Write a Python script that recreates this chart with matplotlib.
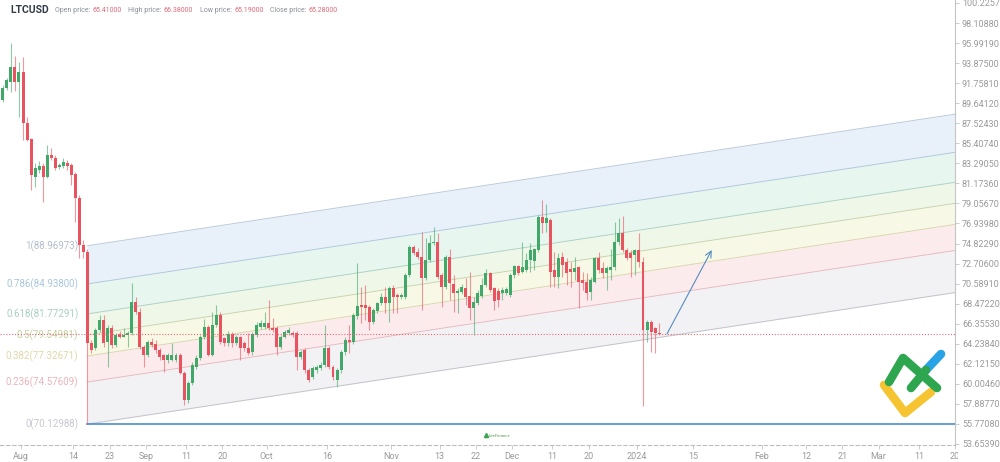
import matplotlib
matplotlib.use('Agg')
import matplotlib.pyplot as plt
import matplotlib.dates as mdates
from matplotlib.transforms import Bbox
import numpy as np
import pandas as pd

plt.rcParams['font.family'] = ['Roboto', 'DejaVu Sans']

# ---------------- data ----------------
symbol = 'LTCUSD'
info_labels = ['Open price:', 'High price:', 'Low price:', 'Close price:']
info_values = ['65.41000', '66.38000', '65.19000', '65.28000']

first_date = '2023-07-27'
opens = [90.0, 91.3, 91.9, 93.5, 91.9, 92.9, 87.6, 85.9, 81.9, 82.6,
         83.0, 81.9, 84.2, 83.9, 82.9, 83.0, 83.3, 83.1, 82.2, 79.6,
         74.7, 73.9, 64.3, 63.8, 65.7, 66.75, 64.4, 65.9, 64.1, 65.3,
         65.0, 65.2, 65.4, 68.65, 67.6, 63.9, 63.05, 64.4, 64.2, 63.6,
         63.0, 62.5, 62.55, 62.5, 63.0, 61.15, 58.3, 60.1, 61.8, 62.7,
         64.95, 66.0, 63.1, 66.2, 67.3, 64.8, 64.3, 65.3, 64.3, 64.95,
         64.3, 63.8, 63.35, 65.2, 66.0, 66.0, 66.4, 65.9, 65.9, 63.9,
         64.95, 65.4, 65.4, 65.4, 62.85, 63.6, 61.45, 60.7, 61.45, 61.7,
         62.0, 63.8, 61.8, 60.4, 61.45, 63.35, 64.6, 64.4, 67.15, 68.3,
         68.3, 68.1, 66.5, 67.7, 68.5, 69.2, 68.5, 70.1, 69.4, 69.2,
         69.2, 71.5, 74.45, 73.9, 73.4, 71.2, 73.1, 74.9, 75.0, 71.5,
         70.2, 73.4, 70.55, 69.6, 69.7, 70.1, 69.3, 68.0, 68.55, 69.3,
         70.45, 71.7, 70.1, 69.8, 69.6, 69.6, 69.4, 71.5, 72.45, 71.8,
         72.0, 73.1, 73.0, 74.15, 77.6, 77.0, 77.3, 72.0, 71.3, 73.4,
         72.9, 72.1, 71.8, 72.35, 70.97, 70.75, 69.7, 70.75, 73.3, 72.2,
         71.7, 72.0, 72.35, 74.98, 75.9, 74.15, 73.8, 73.6, 74.15, 72.9,
         65.7, 66.5, 65.9, 65.41]
highs = [91.6, 92.3, 96.0, 94.6, 94.0, 94.5, 88.2, 86.0, 83.3, 83.5,
         83.3, 85.2, 84.9, 84.2, 83.3, 83.9, 83.6, 83.3, 82.4, 79.9,
         75.2, 74.2, 64.6, 65.9, 67.3, 67.3, 66.2, 66.2, 65.4, 65.6,
         65.9, 65.6, 70.65, 69.2, 68.0, 64.1, 64.6, 64.8, 64.6, 63.8,
         63.2, 63.3, 64.3, 63.3, 63.3, 61.4, 60.3, 62.3, 63.0, 65.2,
         66.9, 66.2, 67.6, 68.3, 67.6, 65.0, 65.6, 65.5, 65.2, 65.1,
         64.5, 65.4, 65.5, 66.5, 66.75, 67.6, 68.85, 66.95, 66.1, 65.2,
         65.7, 66.0, 65.6, 65.6, 63.6, 63.8, 61.7, 61.9, 62.0, 62.3,
         66.2, 64.0, 62.0, 61.7, 63.6, 64.9, 66.2, 67.5, 72.8, 70.2,
         70.4, 68.3, 68.0, 68.7, 69.6, 70.2, 70.3, 70.45, 69.6, 69.6,
         71.7, 74.7, 74.65, 74.35, 76.0, 75.4, 75.7, 76.6, 75.9, 71.7,
         73.6, 74.25, 71.5, 70.1, 70.5, 71.2, 71.8, 69.2, 69.9, 71.2,
         72.1, 71.8, 70.2, 70.1, 70.2, 70.2, 71.7, 72.55, 72.6, 75.0,
         73.8, 74.9, 74.35, 77.8, 79.4, 79.0, 77.5, 73.9, 73.8, 73.9,
         73.3, 72.85, 73.4, 72.45, 71.8, 71.7, 71.3, 73.4, 73.9, 72.85,
         72.45, 74.25, 77.1, 77.5, 77.7, 74.35, 74.15, 74.25, 75.9, 73.4,
         66.75, 66.75, 66.0, 66.38]
lows = [89.8, 91.0, 90.8, 90.9, 88.2, 85.8, 85.6, 80.5, 80.8, 82.3,
        79.2, 81.7, 83.6, 82.6, 82.7, 82.8, 82.6, 81.0, 77.1, 73.3,
        73.3, 55.8, 63.3, 63.6, 65.5, 63.9, 61.8, 63.8, 63.9, 64.8,
        64.9, 63.9, 65.2, 67.4, 63.7, 61.8, 62.8, 63.9, 63.3, 62.5,
        61.25, 62.2, 62.4, 62.3, 61.0, 57.8, 58.0, 59.9, 61.6, 62.5,
        64.7, 62.9, 62.9, 66.0, 64.2, 64.0, 64.0, 63.9, 64.1, 62.5,
        63.5, 63.0, 63.1, 65.0, 65.8, 65.8, 65.7, 65.5, 63.05, 63.7,
        64.8, 65.2, 65.0, 61.45, 62.6, 61.2, 60.2, 60.5, 61.2, 61.5,
        61.8, 61.6, 60.4, 59.7, 61.2, 63.1, 63.25, 64.2, 66.9, 66.4,
        66.75, 65.7, 66.3, 67.5, 68.3, 67.5, 66.5, 67.5, 67.5, 69.0,
        69.0, 71.3, 73.6, 73.2, 67.8, 71.0, 72.9, 74.7, 71.1, 68.1,
        70.0, 68.85, 67.6, 67.5, 69.5, 68.3, 66.75, 65.15, 68.3, 69.1,
        70.2, 69.7, 67.8, 68.1, 68.85, 69.4, 69.2, 71.2, 71.5, 71.7,
        71.8, 71.8, 72.0, 73.9, 75.9, 76.0, 70.25, 70.25, 70.1, 71.3,
        70.45, 70.25, 70.97, 68.0, 69.9, 68.85, 68.85, 70.65, 71.7, 71.2,
        69.9, 70.97, 72.0, 74.7, 73.9, 73.1, 71.3, 71.5, 72.35, 57.65,
        64.4, 63.35, 63.25, 65.19]
closes = [91.3, 92.1, 93.5, 91.9, 92.9, 87.6, 85.8, 82.1, 82.8, 83.0,
          81.85, 84.2, 83.9, 82.8, 83.1, 83.4, 83.0, 82.1, 79.6, 74.7,
          73.9, 64.3, 63.6, 65.7, 66.75, 64.3, 65.9, 64.1, 65.15, 64.95,
          65.2, 65.4, 68.65, 67.6, 63.9, 63.05, 64.4, 64.1, 63.6, 62.85,
          62.5, 63.05, 63.0, 63.0, 61.15, 58.3, 60.1, 62.0, 62.7, 64.95,
          66.0, 63.1, 66.2, 67.3, 64.4, 64.3, 65.3, 64.3, 64.95, 63.8,
          63.8, 63.25, 65.3, 66.2, 66.4, 66.4, 65.9, 65.7, 63.9, 64.95,
          65.5, 65.7, 65.15, 62.85, 63.35, 61.45, 60.4, 61.7, 61.8, 62.0,
          63.8, 61.8, 60.7, 61.45, 63.35, 64.6, 64.4, 67.25, 68.2, 68.1,
          68.0, 66.5, 67.8, 68.5, 69.2, 68.5, 70.1, 69.2, 69.2, 69.4,
          71.5, 74.45, 73.8, 73.4, 71.2, 73.1, 74.9, 75.0, 71.3, 70.2,
          73.4, 70.65, 69.6, 69.8, 70.2, 69.2, 68.0, 68.65, 69.6, 70.45,
          71.7, 69.9, 68.75, 68.85, 69.9, 70.0, 71.5, 72.45, 71.7, 72.3,
          73.1, 74.15, 74.25, 77.6, 77.0, 77.5, 71.8, 71.3, 73.3, 72.55,
          71.7, 71.8, 72.25, 70.75, 70.65, 69.6, 70.97, 73.3, 72.0, 71.7,
          72.2, 72.35, 74.98, 75.9, 74.15, 73.3, 73.3, 74.15, 72.9, 65.7,
          66.5, 65.5, 65.4, 65.28]

# Fibonacci channel
fib_levels = [1.0, 0.786, 0.618, 0.5, 0.382, 0.236, 0.0]
fib_labels = ['1(88.96973)', '0.786(84.93800)', '0.618(81.77291)', '0.5(79.54981)',
              '0.382(77.32671)', '0.236(74.57609)', '0(70.12988)']
chan_start = '2023-08-17 12:00'
chan_end = '2024-03-27 12:00'
chan_start_low = 55.75
chan_end_low = 70.12988
chan_range = 18.83985

support_level = 55.7708
close_level = 65.28
arrow_from = ('2024-01-08 11:00', 65.28)
arrow_to = ('2024-01-19 14:00', 74.14)

ytick_labels = ['53.65390', '55.77080', '57.88770', '60.00460', '62.12150', '64.23840',
                '66.35530', '68.47220', '70.58910', '72.70600', '74.82290', '76.93980',
                '79.05670', '81.17360', '83.29050', '85.40740', '87.52430', '89.64120',
                '91.75810', '93.87500', '95.99190', '98.10880', '100.22570']
xtick_dates = ['2023-08-01', '2023-08-14', '2023-08-23', '2023-09-01', '2023-09-11',
               '2023-09-20', '2023-10-01', '2023-10-16', '2023-11-01', '2023-11-13',
               '2023-11-22', '2023-12-01', '2023-12-11', '2023-12-20', '2024-01-01',
               '2024-01-15', '2024-02-01', '2024-02-12', '2024-02-21', '2024-03-01',
               '2024-03-11', '2024-03-20']
xtick_labels = ['Aug', '14', '23', 'Sep', '11', '20', 'Oct', '16', 'Nov', '13', '22',
                'Dec', '11', '20', '2024', '15', 'Feb', '12', '21', 'Mar', '11', '20']

# ---------------- styling ----------------
GREEN = '#41a86a'
RED = '#e9525f'
band_colors = ['#e8f1fa', '#e8f6f0', '#eff8e8', '#f7f9e6', '#fcebed', '#f2f2f4']
line_colors = ['#bccadb', '#b0c9dc', '#b0d2c5', '#c9d5b0', '#ddd5b2', '#e5bcc3', '#c3c3cc']
label_colors = ['#b4bccc', '#a9c6dc', '#a8d0c2', '#c8cf9f', '#e0d7a8', '#ebb3bb', '#c6c7d1']

W, H = 1000, 462
fig = plt.figure(figsize=(W / 100, H / 100), dpi=100)
ax = fig.add_axes([0, 17 / H, 955 / W, 445 / H])
ax.set_facecolor('white')

d2n = lambda s: mdates.date2num(pd.Timestamp(s))
x_aug1 = d2n('2023-08-01')
ax.set_xlim(x_aug1 - 5.216, d2n('2024-03-20'))
ax.set_ylim(53.547, 100.5425)

# channel bands and lines
cx = np.array([d2n(chan_start), d2n(chan_end)])
low_line = np.array([chan_start_low, chan_end_low])
lvl_lines = [low_line + f * chan_range for f in fib_levels]
for i in range(len(fib_levels) - 1):
    ax.fill_between(cx, lvl_lines[i + 1], lvl_lines[i], color=band_colors[i], lw=0, zorder=1)
for i, f in enumerate(fib_levels):
    ax.plot(cx, lvl_lines[i], color=line_colors[i], lw=0.7, zorder=2)
    ax.annotate(fib_labels[i], xy=(cx[0], lvl_lines[i][0]), xytext=(-6.5, 0),
                textcoords='offset points', ha='right', va='center',
                fontsize=7, color=label_colors[i], zorder=5)

# support & close lines
ax.plot([cx[0], ax.get_xlim()[1]], [support_level, support_level], color='#4a8fcb', lw=1.2, zorder=3)
ax.axhline(close_level, color='#e36b76', lw=0.8, ls=(0, (1, 1.6)), zorder=6)

# candles
dates = pd.date_range(first_date, periods=len(opens), freq='D')
xc = mdates.date2num(dates) + 0.5
o, h, l, c = (np.array(v, dtype=float) for v in (opens, highs, lows, closes))
cols = np.where(c >= o, GREEN, RED)
ax.vlines(xc, l, h, colors=cols, linewidth=0.8, alpha=0.6, zorder=4)
ax.bar(xc, np.maximum(np.abs(c - o), 0.1), bottom=np.minimum(o, c), width=0.74,
       color=cols, linewidth=0, zorder=5)

# arrow
ax.annotate('', xy=(d2n(arrow_to[0]), arrow_to[1]), xytext=(d2n(arrow_from[0]), arrow_from[1]),
            arrowprops=dict(arrowstyle='->,head_length=0.45,head_width=0.22', color='#568cc0',
                            lw=0.8, shrinkA=0, shrinkB=0), zorder=7)

# axes styling
for s in ['left', 'top']:
    ax.spines[s].set_visible(False)
ax.spines['right'].set_color('#c4c4c4')
ax.spines['right'].set_linewidth(0.8)
ax.spines['bottom'].set_color('#bdbdbd')
ax.spines['bottom'].set_linewidth(0.8)
ax.spines['bottom'].set_linestyle((0, (3, 2.5)))

ax.yaxis.tick_right()
ax.set_yticks([float(t) for t in ytick_labels])
ax.set_yticklabels(ytick_labels)
ax.set_xticks([d2n(d) for d in xtick_dates])
ax.set_xticklabels(xtick_labels)
ax.tick_params(axis='y', labelsize=6.5, labelcolor='#9a9a9a', color='#c4c4c4',
               length=3, width=0.6, pad=2)
ax.tick_params(axis='x', labelsize=6.5, labelcolor='#9a9a9a', color='#c4c4c4',
               length=3, width=0.6, pad=2)
clip = Bbox.from_extents(0, 0, 958, H)
for lab in ax.get_xticklabels():
    lab.set_clip_on(True)
    lab.set_clip_box(clip)

# header
fig.text(10 / W, 1 - 10 / H, symbol, fontsize=7.5, fontweight='bold',
         color='#323a48', va='center', ha='left')
info_x = [55, 128, 200, 270]
for xx, lab, val in zip(info_x, info_labels, info_values):
    tl = fig.text(xx / W, 1 - 10 / H, lab, fontsize=5, color='#8a8f98', va='center', ha='left')
    ax.annotate(val, xy=(1, 0.5), xycoords=tl, xytext=(1.5, 0), textcoords='offset points',
                fontsize=5, color='#e06a78', va='center', ha='left', annotation_clip=False)

# decorative overlay (logo / watermark) in pixel coordinates
ov = fig.add_axes([0, 0, 1, 1], facecolor='none')
ov.set_xlim(0, W)
ov.set_ylim(H, 0)
ov.axis('off')
ov.plot([884, 905, 931], [385, 413, 392], color='#f5c430', lw=6.2, solid_capstyle='round',
        solid_joinstyle='round')
ov.plot([889, 903, 937], [382, 358, 388], color='#2ea650', lw=6.2, solid_capstyle='round',
        solid_joinstyle='round')
ov.plot([926, 941], [370, 354], color='#2aa3e6', lw=6.2, solid_capstyle='round')
ov.plot([911, 926], [388, 370], color='#2ea650', lw=6.2, solid_capstyle='round')
ov.text(500, 436, 'LiteFinance', fontsize=3.2, color='#5aa04a', style='italic',
        ha='center', va='center')
ov.plot([486], [435], marker='^', ms=3, color='#3aa655')

fig.savefig('out.png', dpi=100, facecolor='white')
